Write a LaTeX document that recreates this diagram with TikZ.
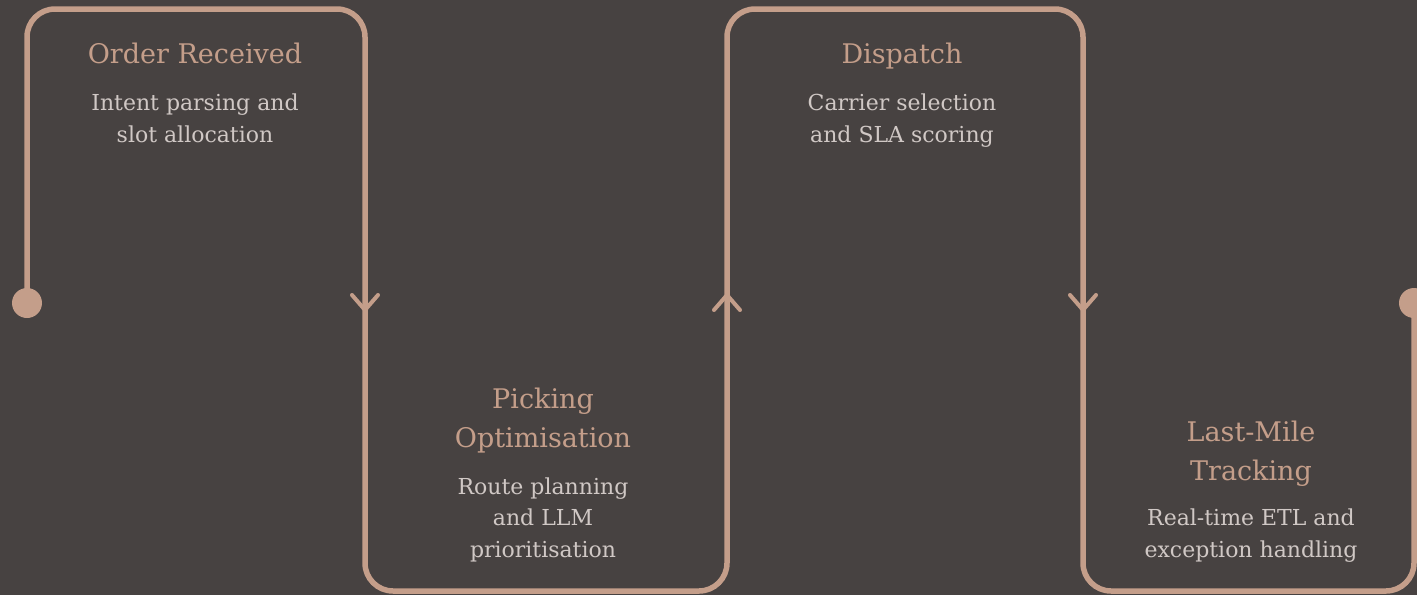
\documentclass[tikz,border=0pt]{standalone}
\usepackage{fontspec}
\setmainfont{DejaVu Serif}
\definecolor{bg}{HTML}{474241}
\definecolor{copper}{HTML}{C49E8A}
\definecolor{notegrey}{HTML}{D0C8C5}
\begin{document}
\begin{tikzpicture}[x=1pt,y=-1pt,
  flow/.style={draw=copper, line width=5.5pt, rounded corners=28pt},
  steptitle/.style={text=copper, font=\fontsize{27}{39}\selectfont, align=center, anchor=base, inner sep=0pt},
  stepnote/.style={text=notegrey, font=\fontsize{22}{31.5}\selectfont, align=center, anchor=base, inner sep=0pt},
  chev/.style={draw=copper, line width=4pt, line cap=round, line join=round},
  dotend/.style={circle, fill=copper, minimum size=30pt, inner sep=0pt},
  downchev/.pic={\draw[chev] (-13,-15) -- (0,0) -- (13,-15);},
  upchev/.pic={\draw[chev] (-13,15) -- (0,0) -- (13,15);}]
% canvas
\fill[bg] (0,0) rectangle (1417,595);
\useasboundingbox (0,0) rectangle (1417,595);

% end points of the flow line
\node[dotend] (start) at (27,303) {};
\node[dotend] (finish) at (1414,303) {};

% corners of the serpentine
\coordinate (c1) at (27,9);
\coordinate (c2) at (365,9);
\coordinate (c3) at (365,591);
\coordinate (c4) at (727,591);
\coordinate (c5) at (727,9);
\coordinate (c6) at (1083,9);
\coordinate (c7) at (1083,591);
\coordinate (c8) at (1414,591);

\draw[flow] (start.center) -- (c1) -- (c2) -- (c3) -- (c4) -- (c5) -- (c6) -- (c7) -- (c8) -- (finish.center);

% direction marks
\pic at (365,310) {downchev};
\pic at (727,295) {upchev};
\pic at (1083,310) {downchev};

% stage labels (base anchor = baseline of the last line)
\node[steptitle] (t1) at (195,63) {Order Received};
\node[stepnote] (s1) at (195,142) {Intent parsing and\\slot allocation};

\node[steptitle] (t2) at (543,447) {Picking\\Optimisation};
\node[stepnote] (s2) at (543,557) {Route planning\\and LLM\\prioritisation};

\node[steptitle] (t3) at (902,63) {Dispatch};
\node[stepnote] (s3) at (902,142) {Carrier selection\\and SLA scoring};

\node[steptitle] (t4) at (1251,480) {Last-Mile\\Tracking};
\node[stepnote] (s4) at (1251,557) {Real-time ETL and\\exception handling};
\end{tikzpicture}
\end{document}
